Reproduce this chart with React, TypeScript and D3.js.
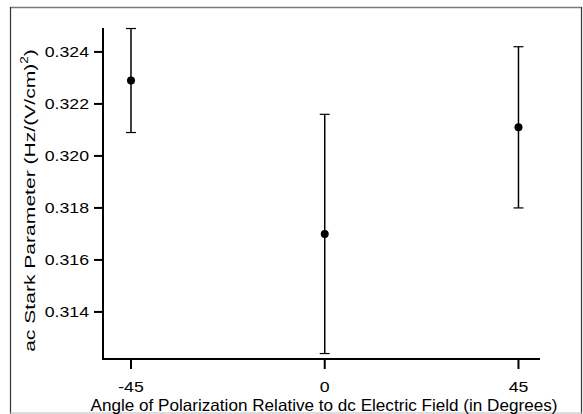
import React from "react";
import * as d3 from "d3";

const angles = [-45, 0, 45];
const values = [0.3229, 0.317, 0.3211];
const errors = [0.002, 0.0046, 0.0031];
const xTicks = [-45, 0, 45];
const yTicks = [0.314, 0.316, 0.318, 0.32, 0.322, 0.324];

const W = 583;
const H = 414;
const FONT = "Liberation Sans, Arial, Helvetica, sans-serif";
const SX = 1.14;

export default function App() {
  const x = d3.scaleLinear().domain([-51.5, 50]).range([103, 540]);
  const y = d3.scaleLinear().domain([0.31219, 0.32492]).range([359, 28]);
  const fmt = d3.format(".3f");
  const data = angles.map((a, i) => ({ a, v: values[i], e: errors[i] }));
  return (
    <svg
      width={W}
      height={H}
      style={{ position: "absolute", left: 0, top: 0, background: "#fff" }}
      fontFamily={FONT}
    >
      <rect x={0} y={0} width={W} height={H} fill="#fff" />
      {/* frame */}
      <line x1={10} x2={582} y1={7.5} y2={7.5} stroke="#7a7a7a" strokeWidth={1.5} />
      <line x1={10.5} x2={10.5} y1={7} y2={414} stroke="#333" strokeWidth={1.2} />
      <line x1={581.5} x2={581.5} y1={7} y2={414} stroke="#333" strokeWidth={1.2} />
      <line x1={10} x2={582} y1={413} y2={413} stroke="#bbb" strokeWidth={1} />

      {/* axes */}
      <line x1={x.range()[0]} x2={x.range()[1]} y1={359} y2={359} stroke="#000" strokeWidth={2} />
      <line x1={103} x2={103} y1={y.range()[1]} y2={360} stroke="#000" strokeWidth={2} />
      {yTicks.map((t) => (
        <g key={t}>
          <line x1={94} x2={103} y1={y(t)} y2={y(t)} stroke="#000" strokeWidth={2} />
          <text
            transform={`translate(89,${y(t)}) scale(${SX},1)`}
            dy="0.35em"
            textAnchor="end"
            fontSize={15.5}
            fill="#000"
          >
            {fmt(t)}
          </text>
        </g>
      ))}
      {xTicks.map((t) => (
        <g key={t}>
          <line x1={x(t)} x2={x(t)} y1={359} y2={369} stroke="#000" strokeWidth={2} />
          <text
            transform={`translate(${x(t)},392) scale(${SX},1)`}
            textAnchor="middle"
            fontSize={15.5}
            fill="#000"
          >
            {t}
          </text>
        </g>
      ))}

      {/* error bars and points */}
      {data.map((d) => (
        <g key={d.a}>
          <line x1={x(d.a)} x2={x(d.a)} y1={y(d.v + d.e)} y2={y(d.v - d.e)} stroke="#000" strokeWidth={1.5} />
          <line x1={x(d.a) - 5} x2={x(d.a) + 5} y1={y(d.v + d.e)} y2={y(d.v + d.e)} stroke="#000" strokeWidth={1.2} />
          <line x1={x(d.a) - 5} x2={x(d.a) + 5} y1={y(d.v - d.e)} y2={y(d.v - d.e)} stroke="#000" strokeWidth={1.2} />
          <circle cx={x(d.a)} cy={y(d.v)} r={4} fill="#000" />
        </g>
      ))}

      {/* titles */}
      <text x={324} y={410.5} textAnchor="middle" fontSize={16.5} fill="#000" textLength={467} lengthAdjust="spacingAndGlyphs">
        Angle of Polarization Relative to dc Electric Field (in Degrees)
      </text>
      <text
        transform="translate(35,200.5) rotate(-90) scale(1.36,1)"
        textAnchor="middle"
        fontSize={15.5}
        fill="#000"
      >
        ac Stark Parameter (Hz/(V/cm)
        <tspan dy={-7} fontSize={10}>2</tspan>
        <tspan dy={7}>)</tspan>
      </text>
    </svg>
  );
}
